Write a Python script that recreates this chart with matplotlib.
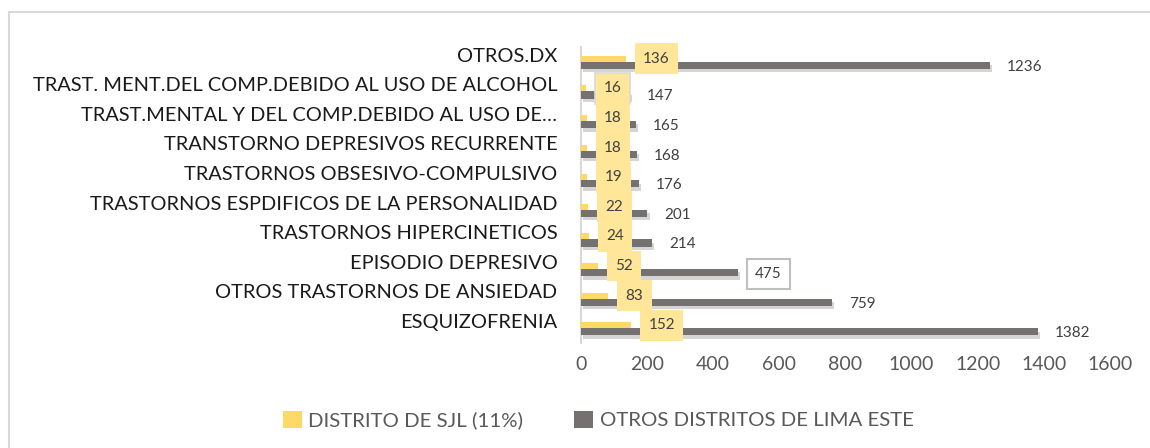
import matplotlib
matplotlib.use("Agg")
import matplotlib.pyplot as plt
import matplotlib.patheffects as pe
from matplotlib.patches import Patch
from matplotlib.lines import Line2D
import numpy as np

plt.rcParams['font.family'] = ['Lato', 'DejaVu Sans']

categories = [
    "OTROS.DX",
    "TRAST. MENT.DEL COMP.DEBIDO AL USO DE ALCOHOL",
    "TRAST.MENTAL Y DEL COMP.DEBIDO AL USO DE…",
    "TRANSTORNO DEPRESIVOS RECURRENTE",
    "TRASTORNOS OBSESIVO-COMPULSIVO",
    "TRASTORNOS ESPDIFICOS DE LA PERSONALIDAD",
    "TRASTORNOS HIPERCINETICOS",
    "EPISODIO DEPRESIVO",
    "OTROS TRASTORNOS DE ANSIEDAD",
    "ESQUIZOFRENIA",
]
sjl = [136, 16, 18, 18, 19, 22, 24, 52, 83, 152]
otros = [1236, 147, 165, 168, 176, 201, 214, 475, 759, 1382]
series_names = ["DISTRITO DE SJL (11%)", "OTROS DISTRITOS DE LIMA ESTE"]
xticks = [0, 200, 400, 600, 800, 1000, 1200, 1400, 1600]

YELLOW = "#FFD966"
LABEL_YELLOW = "#FFE699"
GRAY = "#767171"
TXT = "#404040"

W, H = 1150, 448
fig = plt.figure(figsize=(W / 100, H / 100), dpi=100)
ax = fig.add_axes([581 / W, 1 - 343 / H, (1110 - 581) / W, (343 - 47) / H])

y = np.arange(len(categories))
hy, hg = 0.2, 0.24
ax.barh(y - hy / 2, sjl, height=hy, color=YELLOW, zorder=3)
gbars = ax.barh(y + hg / 2, otros, height=hg, color=GRAY, zorder=3)
for b in gbars:
    b.set_path_effects([pe.SimplePatchShadow(offset=(1.5, -2.5), shadow_rgbFace="#888888", alpha=0.35),
                        pe.Normal()])

ax.set_xlim(0, 1600)
ax.set_ylim(len(categories) - 0.5, -0.5)
ax.set_xticks(xticks)
ax.set_xticklabels([str(t) for t in xticks])
ax.set_yticks(y - 0.24)
ax.set_yticklabels(categories)
ax.tick_params(axis='x', length=0, pad=9, labelsize=14, labelcolor="#595959")
ax.tick_params(axis='y', length=0, pad=17, labelsize=14.4, labelcolor="#1a1a1a")
for s in ['top', 'right', 'bottom']:
    ax.spines[s].set_visible(False)
ax.spines['left'].set_color("#D9D9D9")
ax.spines['left'].set_linewidth(1.5)

for i, v in enumerate(sjl):
    ec = "#D9D9D9" if v == 16 else "none"
    ax.annotate(str(v), xy=(v, y[i] - hy / 2), xytext=(12.3, 0), textcoords='offset points',
                ha='left', va='center', fontsize=11, color=TXT, zorder=5,
                bbox=dict(boxstyle='square,pad=0.55', fc=LABEL_YELLOW, ec=ec, lw=1.2))
for i, v in enumerate(otros):
    bb = None
    if v == 475:
        bb = dict(boxstyle='square,pad=0.55', fc='white', ec='#BFBFBF', lw=1.5)
    ax.annotate(str(v), xy=(v, y[i] + hg / 2), xytext=(12.3, -1), textcoords='offset points',
                ha='left', va='center', fontsize=11, color=TXT, zorder=5, bbox=bb)

handles = [Patch(facecolor=YELLOW, edgecolor='none'), Patch(facecolor=GRAY, edgecolor='none')]
fig.legend(handles, series_names, loc='center', bbox_to_anchor=(598 / W, 1 - 420 / H),
           ncol=2, frameon=False, fontsize=14.7, labelcolor="#595959",
           handlelength=0.95, handleheight=0.95, handletextpad=0.3, columnspacing=2.5)

fig.add_artist(Line2D([8.5 / W, 1.0], [1 - 12.5 / H, 1 - 12.5 / H], transform=fig.transFigure,
                      color="#D9D9D9", lw=1.5))
fig.add_artist(Line2D([9 / W, 9 / W], [1 - 12.5 / H, 0], transform=fig.transFigure,
                      color="#D9D9D9", lw=1.5))

fig.savefig("out.png", dpi=100, facecolor='white')
